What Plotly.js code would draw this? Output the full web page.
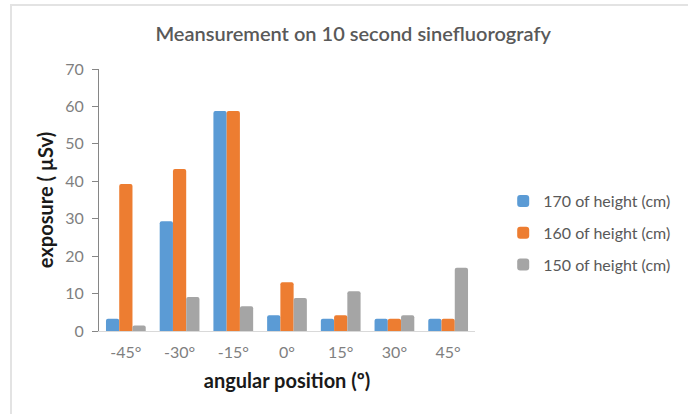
<!DOCTYPE html>
<html>
<head>
<meta charset="utf-8">
<script src="https://cdn.plot.ly/plotly-3.0.1.min.js"></script>
<style>
html,body{margin:0;padding:0;background:#fff;}
#wrap{position:relative;width:688px;height:414px;overflow:hidden;}
#chart{width:688px;height:414px;}
#frame{position:absolute;left:10px;top:4px;width:700px;height:420px;border-top:2px solid #e3e3e3;border-left:2px solid #e3e3e3;pointer-events:none;}
</style>
</head>
<body>
<div id="wrap"><div id="chart"></div><div id="frame"></div></div>
<script>
const categories = ["-45°", "-30°", "-15°", "0°", "15°", "30°", "45°"];
const seriesNames = ["170 of height (cm)", "160 of height (cm)", "150 of height (cm)"];
const h170 = [3.3, 29.3, 58.8, 4.2, 3.3, 3.3, 3.3];
const h160 = [39.3, 43.3, 58.8, 13.0, 4.2, 3.3, 3.3];
const h150 = [1.5, 9.1, 6.6, 8.8, 10.6, 4.2, 16.9];
const colors = ["#5B9BD5", "#ED7D31", "#A5A5A5"];
const yTicks = [0, 10, 20, 30, 40, 50, 60, 70];

const allVals = [h170, h160, h150];
const traces = allVals.map((vals, i) => ({
  type: "bar",
  name: seriesNames[i],
  x: categories,
  y: vals,
  legendgroup: "g" + i,
  marker: {color: colors[i], cornerradius: 2, line: {width: 0}},
  hoverinfo: "x+y+name"
}));

const layout = {
  width: 688, height: 414,
  margin: {l: 99, r: 181, t: 69, b: 83},
  paper_bgcolor: "#ffffff",
  plot_bgcolor: "#ffffff",
  barmode: "group",
  bargap: 0.26,
  bargroupgap: 0,
  font: {family: "Lato, 'Open Sans', sans-serif", color: "#595959", size: 15},
  title: {
    text: "Meansurement on 10 second sinefluorografy",
    font: {family: "Lato, sans-serif", size: 20, color: "#595959", weight: 600},
    xref: "paper", x: 0.676, xanchor: "center",
    yref: "container", y: 1 - 34/414, yanchor: "middle"
  },
  xaxis: {
    type: "category",
    showline: true, linecolor: "#d9d9d9", linewidth: 1,
    ticks: "outside", ticklen: 7, tickcolor: "rgba(0,0,0,0)",
    showgrid: false, zeroline: false,
    tickfont: {size: 16, color: "#7f7f7f"},
    title: {text: "angular position (º)", font: {size: 20, color: "#1a1a1a", weight: "bold"}, standoff: 13}
  },
  yaxis: {
    range: [0, 70], tickvals: yTicks,
    showline: true, linecolor: "#868686", linewidth: 1,
    ticks: "outside", ticklen: 6, tickcolor: "#868686",
    ticklabelstandoff: 5,
    showgrid: false, zeroline: false,
    tickfont: {size: 16, color: "#7f7f7f"},
    title: {text: "exposure ( µSv)", font: {size: 20, color: "#1a1a1a", weight: "bold"}, standoff: 6}
  },
  showlegend: true,
  legend: {
    x: 1.075, xanchor: "left", y: 0.374, yanchor: "middle",
    font: {size: 16, color: "#595959"},
    traceorder: "grouped", tracegroupgap: 8,
    entrywidth: 100, entrywidthmode: "pixels",
    bgcolor: "rgba(0,0,0,0)"
  }
};

Plotly.newPlot("chart", traces, layout, {displayModeBar: false, staticPlot: true});
</script>
</body>
</html>
